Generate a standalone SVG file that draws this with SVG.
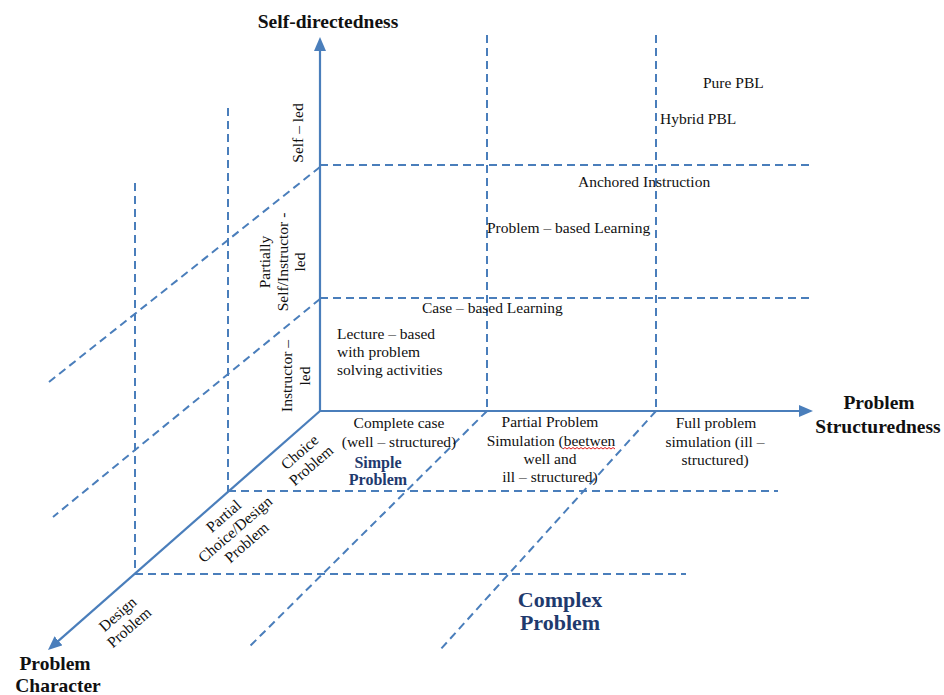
<svg xmlns="http://www.w3.org/2000/svg" width="944" height="695" viewBox="0 0 944 695">
<defs>
<style>
.ax{stroke:#4A7EBB;stroke-width:2.2;fill:none}
.ds{stroke:#4A7EBB;stroke-width:2;fill:none;stroke-dasharray:8 5}
text{font-family:"Liberation Serif","Times New Roman",serif;fill:#111}
.t{font-size:15.5px}
.b{font-size:19.5px;font-weight:bold}
.nv{fill:#1F3A6E;font-weight:bold}
</style>
<marker id="arr" markerUnits="userSpaceOnUse" viewBox="0 0 14 12" markerWidth="14" markerHeight="12" refX="10" refY="6" orient="auto">
<path d="M0,0 L14,6 L0,12 z" fill="#4A7EBB"/>
</marker>
</defs>
<rect width="944" height="695" fill="#fff"/>
<g id="connectors">
<line class="ds" x1="487" y1="35" x2="487" y2="411"/>
<line class="ds" x1="656" y1="35" x2="656" y2="411"/>
<line class="ds" x1="228" y1="108" x2="228" y2="492"/>
<line class="ds" x1="135" y1="183" x2="135" y2="574"/>
<line class="ds" x1="320" y1="165" x2="812" y2="165"/>
<line class="ds" x1="320" y1="298" x2="812" y2="298"/>
<line class="ds" x1="228" y1="491" x2="778" y2="491"/>
<line class="ds" x1="135" y1="574" x2="686" y2="574"/>
<line class="ds" x1="320" y1="167" x2="49" y2="382"/>
<line class="ds" x1="320" y1="299" x2="53" y2="517"/>
<line class="ds" x1="487" y1="411" x2="248" y2="648"/>
<line class="ds" x1="656" y1="411" x2="440" y2="650"/>
<line class="ax" x1="320" y1="411" x2="320" y2="41" marker-end="url(#arr)"/>
<line class="ax" x1="320" y1="411" x2="809" y2="411" marker-end="url(#arr)"/>
<line class="ax" x1="320" y1="411" x2="51" y2="647.4" marker-end="url(#arr)"/>
</g>
<g id="axis-titles">
<text class="b" x="328" y="28" text-anchor="middle">Self-directedness</text>
<text class="b" x="879" text-anchor="middle"><tspan x="879" y="409">Problem</tspan><tspan x="878" y="433">Structuredness</tspan></text>
<text class="b" text-anchor="middle"><tspan x="55" y="670">Problem</tspan><tspan x="58" y="692">Character</tspan></text>
</g>
<g id="self-led"><text class="t" transform="translate(303,133) rotate(-90)" text-anchor="middle">Self – led</text></g>
<g id="partially-led"><text class="t" transform="translate(270,262) rotate(-90)" text-anchor="middle"><tspan x="0" y="0">Partially</tspan><tspan x="0" y="17.5">Self/Instructor -</tspan><tspan x="0" y="35">led</tspan></text></g>
<g id="instructor-led"><text class="t" transform="translate(292,376) rotate(-90)" text-anchor="middle"><tspan x="0" y="0">Instructor –</tspan><tspan x="0" y="17.5">led</tspan></text></g>
<g id="choice-problem"><text class="t" transform="translate(303,456) rotate(-41)" text-anchor="middle"><tspan x="0" y="0">Choice</tspan><tspan x="0" y="17.5">Problem</tspan></text></g>
<g id="partial-choice"><text class="t" transform="translate(227,520) rotate(-41)" text-anchor="middle"><tspan x="0" y="0">Partial</tspan><tspan x="0" y="17.5">Choice/Design</tspan><tspan x="0" y="35">Problem</tspan></text></g>
<g id="design-problem"><text class="t" transform="translate(121,618) rotate(-41)" text-anchor="middle"><tspan x="0" y="0">Design</tspan><tspan x="0" y="17.5">Problem</tspan></text></g>
<g id="pure-pbl"><text class="t" x="703" y="88">Pure PBL</text></g>
<g id="hybrid-pbl"><text class="t" x="660" y="124">Hybrid PBL</text></g>
<g id="anchored"><text class="t" x="578" y="187">Anchored Instruction</text></g>
<g id="pbl"><text class="t" x="487" y="233">Problem – based Learning</text></g>
<g id="cbl"><text class="t" x="422" y="313">Case – based Learning</text></g>
<g id="lecture"><text class="t"><tspan x="337" y="339">Lecture – based</tspan><tspan x="337" y="357">with problem</tspan><tspan x="337" y="375">solving activities</tspan></text></g>
<g id="complete-case"><text class="t" text-anchor="middle"><tspan x="399" y="428">Complete case</tspan><tspan x="399" y="447">(well – structured)</tspan></text></g>
<g id="simple-problem"><text class="nv" style="font-size:16px" text-anchor="middle"><tspan x="378" y="468">Simple</tspan><tspan x="378" y="485">Problem</tspan></text></g>
<g id="partial-sim"><text class="t" text-anchor="middle"><tspan x="550" y="427">Partial Problem</tspan><tspan x="551" y="446">Simulation (beetwen</tspan><tspan x="550" y="464">well and</tspan><tspan x="550" y="482">ill – structured)</tspan></text>
<path d="M563,449 l2,-1.5 l2,1.5 l2,-1.5 l2,1.5 l2,-1.5 l2,1.5 l2,-1.5 l2,1.5 l2,-1.5 l2,1.5 l2,-1.5 l2,1.5 l2,-1.5 l2,1.5 l2,-1.5 l2,1.5 l2,-1.5 l2,1.5 l2,-1.5 l2,1.5 l2,-1.5 l2,1.5 l2,-1.5 l2,1.5 l2,-1.5 l2,1.5" stroke="#e02020" stroke-width="1" fill="none"/></g>
<g id="full-sim"><text class="t" text-anchor="middle"><tspan x="716" y="428">Full problem</tspan><tspan x="715" y="447">simulation (ill –</tspan><tspan x="715" y="465">structured)</tspan></text></g>
<g id="complex-problem"><text class="nv" style="font-size:22px" text-anchor="middle"><tspan x="560" y="607">Complex</tspan><tspan x="560" y="630">Problem</tspan></text></g>
</svg>
